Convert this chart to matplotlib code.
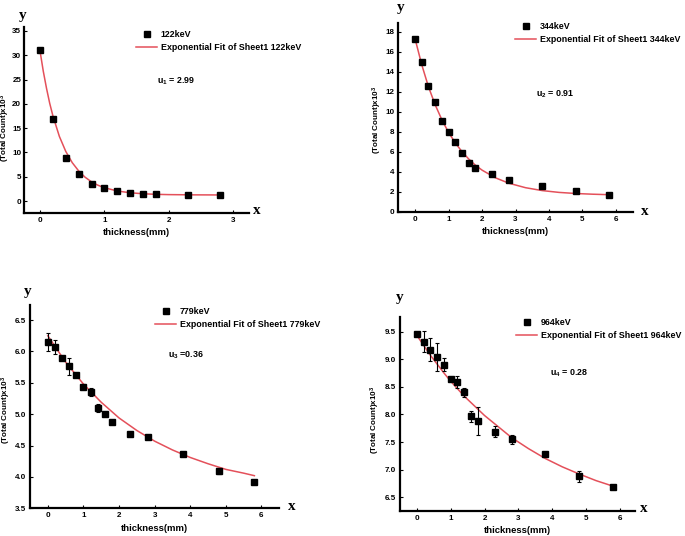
import matplotlib
matplotlib.use("Agg")
import matplotlib.pyplot as plt
from matplotlib.lines import Line2D

plt.rcParams['font.family'] = ['Liberation Sans', 'DejaVu Sans']
plt.rcParams['mathtext.fontset'] = 'custom'
plt.rcParams['mathtext.rm'] = 'Liberation Sans:bold'
plt.rcParams['mathtext.it'] = 'Liberation Sans:bold'
plt.rcParams['mathtext.bf'] = 'Liberation Sans:bold'

W, H = 685, 536

# ---- 122 keV
x1 = [0, 0.2, 0.4, 0.6, 0.8, 1.0, 1.2, 1.4, 1.6, 1.8, 2.3, 2.8]
y1 = [31.0, 16.9, 8.9, 5.6, 3.5, 2.6, 2.05, 1.6, 1.4, 1.4, 1.2, 1.2]
fit_x1 = [0, 0.05, 0.1, 0.15, 0.2, 0.3, 0.4, 0.5, 0.6, 0.7, 0.8, 0.9, 1.0, 1.2, 1.4, 1.6, 1.8, 2.0, 2.4, 2.8]
fit_y1 = [30.8, 26.7, 23.2, 20.1, 17.5, 13.3, 10.2, 7.9, 6.2, 4.9, 3.95, 3.25, 2.74, 2.07, 1.70, 1.50, 1.38, 1.32, 1.27, 1.25]

# ---- 344 keV
x2 = [0, 0.2, 0.4, 0.6, 0.8, 1.0, 1.2, 1.4, 1.6, 1.8, 2.3, 2.8, 3.8, 4.8, 5.8]
y2 = [17.3, 15.0, 12.6, 11.0, 9.1, 8.0, 7.0, 5.9, 4.9, 4.4, 3.8, 3.2, 2.6, 2.1, 1.7]
fit_x2 = [0, 0.2, 0.4, 0.6, 0.8, 1.0, 1.2, 1.4, 1.6, 1.8, 2.0, 2.4, 2.8, 3.3, 3.8, 4.3, 4.8, 5.3, 5.8]
fit_y2 = [17.3, 14.7, 12.5, 10.7, 9.2, 7.93, 6.89, 6.01, 5.28, 4.66, 4.16, 3.39, 2.85, 2.40, 2.11, 1.93, 1.82, 1.75, 1.70]

# ---- 779 keV
x3 = [0, 0.2, 0.4, 0.6, 0.8, 1.0, 1.2, 1.4, 1.6, 1.8, 2.3, 2.8, 3.8, 4.8, 5.8]
y3 = [6.15, 6.07, 5.89, 5.76, 5.63, 5.44, 5.35, 5.10, 5.00, 4.87, 4.69, 4.64, 4.36, 4.09, 3.92]
err3 = [0.14, 0.11, 0.02, 0.13, 0.03, 0.04, 0.06, 0.06, 0.03, 0.02, 0.02, 0.02, 0.02, 0.04, 0.03]
fit_x3 = [0, 0.5, 1.0, 1.5, 2.0, 2.5, 3.0, 3.5, 4.0, 4.5, 5.0, 5.5, 5.8]
fit_y3 = [6.25, 5.83, 5.48, 5.19, 4.94, 4.74, 4.57, 4.43, 4.31, 4.21, 4.12, 4.06, 4.02]

# ---- 964 keV
x4 = [0, 0.2, 0.4, 0.6, 0.8, 1.0, 1.2, 1.4, 1.6, 1.8, 2.3, 2.8, 3.8, 4.8, 5.8]
y4 = [9.45, 9.32, 9.17, 9.04, 8.90, 8.65, 8.59, 8.40, 7.97, 7.88, 7.69, 7.55, 7.28, 6.88, 6.69]
err4 = [0.03, 0.19, 0.21, 0.26, 0.12, 0.02, 0.11, 0.08, 0.10, 0.25, 0.10, 0.08, 0.03, 0.10, 0.04]
fit_x4 = [0, 0.4, 0.8, 1.0, 1.4, 2.0, 2.8, 3.3, 3.8, 4.3, 4.8, 5.3, 5.8]
fit_y4 = [9.43, 9.07, 8.75, 8.60, 8.33, 7.98, 7.58, 7.38, 7.20, 7.05, 6.92, 6.80, 6.70]

labels = ['122keV', '344keV', '779keV', '964keV']
mu_text = ['u$_1$ = 2.99', 'u$_2$ = 0.91', 'u$_3$ =0.36', 'u$_4$ = 0.28']

RED = '#e4505a'
fig = plt.figure(figsize=(W / 100, H / 100), dpi=100)


def px_axes(left, right, top, bottom):
    return fig.add_axes([left / W, 1 - bottom / H, (right - left) / W, (bottom - top) / H])


def ftext(x, y, s, **kw):
    fig.text(x / W, 1 - y / H, s, **kw)


def panel(box, xlim, ylim, yticks, yfmt, xs, ys, errs, fx, fy, label, mu,
          leg_xy, mu_xy, y_xy, x_xy, ylab_xy, ypad):
    ax = px_axes(*box)
    if errs is None:
        ax.plot(xs, ys, 's', color='black', ms=5, zorder=3)
    else:
        ax.errorbar(xs, ys, yerr=errs, fmt='s', color='black', ms=5,
                    elinewidth=0.8, capsize=1.5, capthick=0.8, zorder=3)
    ax.plot(fx, fy, '-', color=RED, lw=1.1, zorder=2)
    ax.set_xlim(*xlim)
    ax.set_ylim(*ylim)
    ax.set_xticks(range(0, int(xlim[1]) + 1))
    ax.set_yticks(yticks)
    ax.set_yticklabels([yfmt % v for v in yticks])
    for s in ['top', 'right']:
        ax.spines[s].set_visible(False)
    for s in ['left', 'bottom']:
        ax.spines[s].set_linewidth(1.6)
    ax.tick_params(direction='in', length=2.5, width=0.8, labelsize=5.8, pad=3)
    ax.tick_params(axis='y', pad=ypad)
    for t in ax.get_xticklabels() + ax.get_yticklabels():
        t.set_fontweight('bold')
    ax.set_xlabel('thickness(mm)', fontsize=6.8, fontweight='bold', labelpad=3)
    ax.set_ylabel('(Total Count)x10$^3$', fontsize=5.8, fontweight='bold')
    left, right, top, bottom = box
    # label anchor is the right edge of the rotated text
    ax.yaxis.set_label_coords((ylab_xy[0] + 4 - left) / (right - left),
                              (bottom - ylab_xy[1]) / (bottom - top))
    ax.patch.set_alpha(0)

    handles = [Line2D([], [], ls='none', marker='s', color='black', ms=4),
               Line2D([], [], color=RED, lw=1.1)]
    ax.legend(handles, [label, 'Exponential Fit of Sheet1 ' + label],
              loc='upper left', bbox_to_anchor=(leg_xy[0] / W, 1 - leg_xy[1] / H),
              bbox_transform=fig.transFigure, frameon=False, borderpad=0,
              borderaxespad=0, handlelength=2.4, handletextpad=0.4,
              labelspacing=0.45, prop={'size': 6.4, 'weight': 'bold'})
    ftext(mu_xy[0], mu_xy[1], mu, fontsize=6.4, fontweight='bold', va='center')
    ftext(y_xy[0], y_xy[1], 'y', fontsize=11, fontweight='bold',
          family='Liberation Serif', ha='center', va='center')
    ftext(x_xy[0], x_xy[1], 'x', fontsize=11, fontweight='bold',
          family='Liberation Serif', ha='center', va='center')
    return ax


panel((24, 249, 27, 212.7), (-0.25, 3.25), (-2.4, 35.8), [0, 5, 10, 15, 20, 25, 30, 35], '%d',
      x1, y1, None, fit_x1, fit_y1, labels[0], mu_text[0],
      (136, 30), (157, 81), (23, 15), (257, 211), (8, 128), 2)
panel((398.3, 632.7, 22.7, 211.7), (-0.5, 6.5), (0, 18.9), [0, 2, 4, 6, 8, 10, 12, 14, 16, 18], '%d',
      x2, y2, None, fit_x2, fit_y2, labels[1], mu_text[1],
      (515, 22), (536, 94), (401, 7), (645, 212), (380, 120), 3)
panel((30, 279.3, 305, 508.3), (-0.5, 6.5), (3.5, 6.74), [3.5, 4.0, 4.5, 5.0, 5.5, 6.0, 6.5], '%.1f',
      x3, y3, err3, fit_x3, fit_y3, labels[2], mu_text[2],
      (155, 307), (168, 355), (28, 292), (292, 507), (9, 410), 3)
panel((400, 635, 316.7, 511), (-0.5, 6.45), (6.25, 9.77), [6.5, 7.0, 7.5, 8.0, 8.5, 9.0, 9.5], '%.1f',
      x4, y4, err4, fit_x4, fit_y4, labels[3], mu_text[3],
      (516, 318), (550, 373), (400, 297), (644, 509), (378, 420), 3)

fig.savefig('out.png', dpi=100)
